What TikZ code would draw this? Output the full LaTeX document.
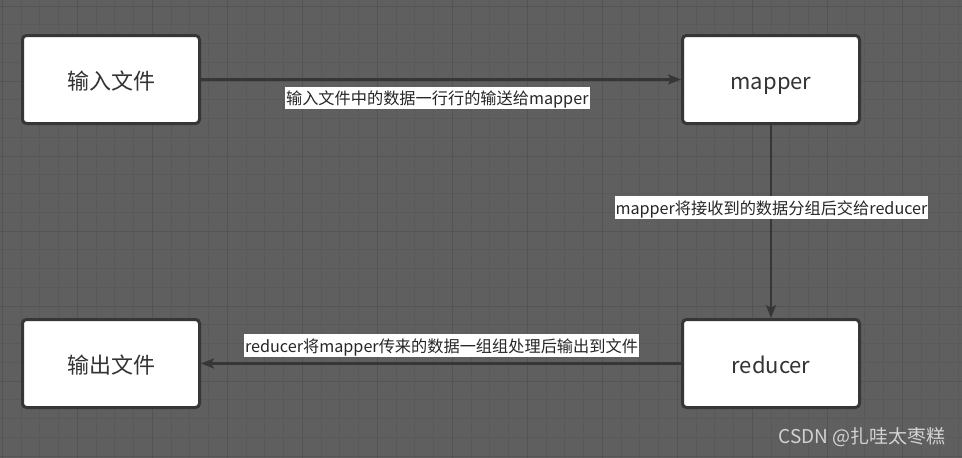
\documentclass[tikz,border=0pt]{standalone}
\usepackage{fontspec}
\setmainfont{Noto Sans CJK SC}
\usetikzlibrary{arrows.meta}
\definecolor{bgc}{HTML}{5F5F5F}
\definecolor{minorc}{HTML}{595959}
\definecolor{majorc}{HTML}{545454}
\definecolor{edgec}{HTML}{363636}
\definecolor{txtc}{HTML}{333333}
\definecolor{markc}{HTML}{D2D2D2}

\begin{document}
\begin{tikzpicture}[x=1pt, y=1pt, yscale=-1, xscale=1,
  box/.style={draw=edgec, line width=3pt, fill=white, rounded corners=4pt, minimum width=177pt, minimum height=88pt, text height=21pt, text depth=2pt, font=\fontsize{22}{24}\selectfont, text=txtc},
  link/.style={draw=edgec, line width=2.6pt, -{Stealth[length=13pt, width=10pt, inset=3pt]}},
  lbl/.style={fill=white, inner xsep=1pt, inner ysep=1.8pt, text height=16pt, text depth=2.8pt, font=\fontsize{16.2}{17}\selectfont, text=black!85}]
\useasboundingbox (0,0) rectangle (962,458);
% 背景网格
\fill [bgc] (0,0) rectangle (962,458);
\foreach \i in {0,...,51} {\pgfmathsetmacro\gx{2.3+\i*18.75} \draw [minorc, line width=1pt] (\gx,0) -- (\gx,458);}
\foreach \i in {0,...,24} {\pgfmathsetmacro\gy{6+\i*18.75} \draw [minorc, line width=1pt] (0,\gy) -- (962,\gy);}
\foreach \i in {0,...,12} {\pgfmathsetmacro\gx{2.3+\i*75} \draw [majorc, line width=1pt] (\gx,0) -- (\gx,458);}
\foreach \i in {0,...,6} {\pgfmathsetmacro\gy{6+\i*75} \draw [majorc, line width=1pt] (0,\gy) -- (962,\gy);}
% 四个方框
\node (infile) [box] at (111,79.5) {输入文件};
\node (mapper) [box] at (771,79.5) {mapper};
\node (reducer) [box] at (771,363.5) {reducer};
\node (outfile) [box] at (111,363.5) {输出文件};
% 箭头
\draw [link] (infile) -- (mapper);
\draw [link] (mapper) -- (reducer);
\draw [link] (reducer) -- (outfile);
%Text
\node (readlbl) [lbl] at (437.3,97.8) {输入文件中的数据一行行的输送给mapper};
\node (grouplbl) [lbl] at (771.5,207.5) {mapper将接收到的数据分组后交给reducer};
\node (writelbl) [lbl] at (441.5,345.5) {reducer将mapper传来的数据一组组处理后输出到文件};
\node (mark) [anchor=east, text=markc, font=\fontsize{19}{20}\selectfont] at (949,437.5) {CSDN @扎哇太枣糕};
\end{tikzpicture}
\end{document}
